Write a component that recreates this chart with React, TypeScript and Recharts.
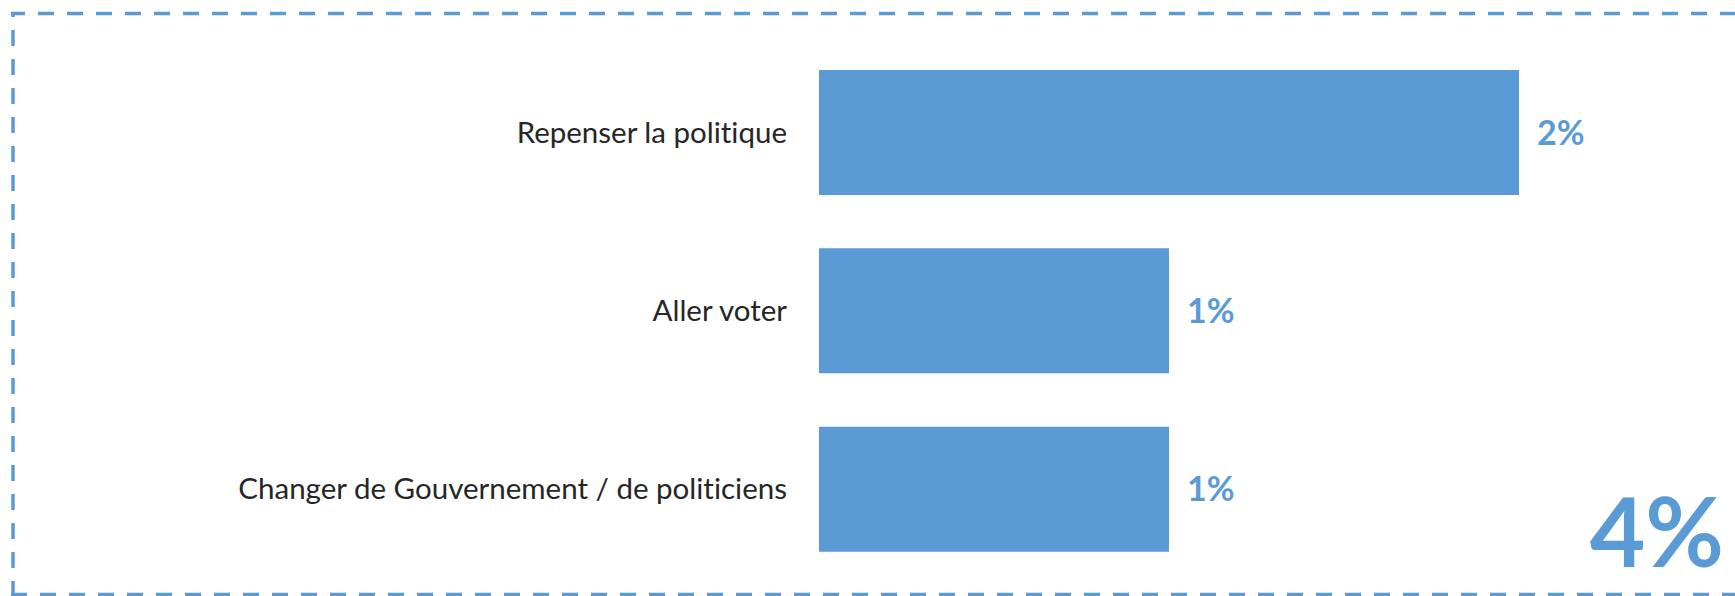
import { BarChart, Bar, XAxis, YAxis, LabelList } from 'recharts';

const categories = ['Repenser la politique', 'Aller voter', 'Changer de Gouvernement / de politiciens'];
const values = [2, 1, 1];

const data = categories.map((name, i) => ({ name, value: values[i] }));
const total = values.reduce((a, b) => a + b, 0);

const BLUE = '#5B9BD5';
const FONT = 'Lato, "Open Sans", sans-serif';

export default function App() {
  return (
    <div style={{ position: 'absolute', left: 0, top: 0, width: 1735, height: 596, background: '#fff' }}>
      <BarChart
        width={1735}
        height={596}
        layout="vertical"
        data={data}
        margin={{ top: 43, right: 216, bottom: 18, left: 0 }}
      >
        <XAxis type="number" domain={[0, 2]} hide />
        <YAxis
          type="category"
          dataKey="name"
          width={819}
          axisLine={false}
          tickLine={false}
          tickMargin={26}
          tick={{ fontSize: 29.5, fill: '#262626', fontFamily: FONT, style: { fontVariantLigatures: 'none' } }}
        />
        <Bar dataKey="value" fill={BLUE} barSize={125} isAnimationActive={false}>
          <LabelList
            dataKey="value"
            position="right"
            offset={18}
            formatter={(v: number) => `${v}%`}
            style={{ fontSize: 34, fontWeight: 700, fill: BLUE, fontFamily: FONT }}
          />
        </Bar>
      </BarChart>
      <svg width={1735} height={596} style={{ position: 'absolute', left: 0, top: 0, pointerEvents: 'none' }}>
        <line x1={11} y1={13.5} x2={1735} y2={13.5} stroke={BLUE} strokeWidth={3.5} strokeDasharray="16 13" strokeDashoffset={2} />
        <line x1={13} y1={12} x2={13} y2={596} stroke={BLUE} strokeWidth={3.5} strokeDasharray="16 13" strokeDashoffset={11} />
        <line x1={11} y1={594.5} x2={1735} y2={594.5} stroke={BLUE} strokeWidth={3.5} strokeDasharray="16 13" />
        <text
          x={1724}
          y={567}
          textAnchor="end"
          fill={BLUE}
          style={{ fontSize: 96, fontWeight: 700, fontFamily: FONT }}
        >
          {`${total}%`}
        </text>
      </svg>
    </div>
  );
}
